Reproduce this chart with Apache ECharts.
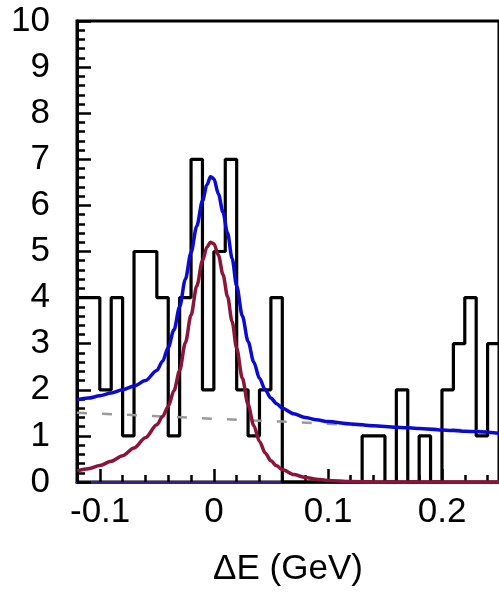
<!DOCTYPE html>
<html>
<head>
<meta charset="utf-8">
<script src="https://cdn.jsdelivr.net/npm/echarts@6/dist/echarts.min.js"></script>
<style>
html,body{margin:0;padding:0;background:#fff;}
#chart{width:499px;height:592px;}
</style>
</head>
<body>
<div id="chart"></div>
<script>
// ---- data ----
// histogram: left edge of each 0.01-GeV bin and its count
var binLeft = [-0.12,-0.11,-0.10,-0.09,-0.08,-0.07,-0.06,-0.05,-0.04,-0.03,-0.02,-0.01,0.00,0.01,0.02,0.03,0.04,0.05,0.06,0.07,0.08,0.09,0.10,0.11,0.12,0.13,0.14,0.15,0.16,0.17,0.18,0.19,0.20,0.21,0.22,0.23,0.24];
var binCount = [4,4,2,4,1,5,5,4,1,4,7,2,5,7,2,1,2,4,0,0,0,0,0,0,0,1,1,0,2,0,1,0,2,3,4,1,3];
var binWidth = 0.01;

// total fit (blue)
var totalX = [-0.12,-0.11,-0.10,-0.09,-0.08,-0.07,-0.06,-0.05,-0.045,-0.04,-0.035,-0.03,-0.025,-0.02,-0.015,-0.01,-0.006,-0.003,0.0,0.004,0.008,0.012,0.016,0.02,0.025,0.03,0.035,0.04,0.045,0.05,0.055,0.06,0.07,0.08,0.09,0.10,0.12,0.14,0.16,0.18,0.20,0.22,0.25];
var totalY = [1.78,1.82,1.87,1.93,2.0,2.08,2.2,2.42,2.62,2.92,3.3,3.8,4.4,4.98,5.55,6.1,6.45,6.62,6.58,6.25,5.85,5.4,4.85,4.25,3.6,3.05,2.6,2.25,2.0,1.82,1.7,1.6,1.48,1.40,1.35,1.31,1.26,1.22,1.19,1.16,1.13,1.10,1.06];

// signal component (dark red)
var signalX = [-0.12,-0.11,-0.10,-0.09,-0.08,-0.07,-0.06,-0.05,-0.045,-0.04,-0.035,-0.03,-0.025,-0.02,-0.015,-0.01,-0.006,-0.003,0.0,0.004,0.008,0.012,0.016,0.02,0.025,0.03,0.035,0.04,0.045,0.05,0.055,0.06,0.07,0.08,0.09,0.10,0.12,0.15,0.25];
var signalY = [0.24,0.29,0.36,0.45,0.57,0.74,0.96,1.24,1.42,1.64,1.98,2.42,3.02,3.62,4.25,4.8,5.1,5.2,5.17,4.92,4.5,4.02,3.48,2.9,2.25,1.68,1.22,0.88,0.63,0.46,0.35,0.27,0.16,0.10,0.06,0.035,0.012,0.0,0.0];

// background component (grey dashed)
var bgX = [-0.12,-0.06,0.0,0.06,0.12,0.18,0.25];
var bgY = [1.50,1.44,1.37,1.31,1.24,1.17,1.09];

var xMin = -0.12, xMax = 0.25, yMin = 0, yMax = 10;
var xLabelTicks = [-0.1, 0, 0.1, 0.2];
var axisTitle = '\u0394E (GeV)';

// ---- build series data ----
function zip(xs, ys){ var o=[]; for (var i=0;i<xs.length;i++) o.push([xs[i], ys[i]]); return o; }
var histData = zip(binLeft, binCount);
histData.push([binLeft[binLeft.length-1] + binWidth, binCount[binCount.length-1]]);

var FONT = '"Liberation Sans", Arial, Helvetica, sans-serif';
var chart = echarts.init(document.getElementById('chart'), null, {renderer:'canvas'});
chart.setOption({
  backgroundColor: '#fff',
  animation: false,
  grid: [
    {left: 77, top: 21, right: -6, bottom: 110, show: true, borderColor: '#000', borderWidth: 3, backgroundColor: 'transparent'},
    {left: 100.14, top: 21, right: -6, bottom: 110, show: false}
  ],
  xAxis: [
    {
      type: 'value', gridIndex: 0, min: xMin, max: xMax, interval: 0.02,
      axisLine: {show: true, onZero: false, lineStyle: {color: '#3a1f8c', width: 3}},
      axisTick: {show: true, inside: true, length: 7, lineStyle: {color: '#000', width: 2.5}},
      axisLabel: {show: false},
      splitLine: {show: false},
      name: axisTitle, nameLocation: 'middle', nameGap: 70,
      nameTextStyle: {fontSize: 35, color: '#000', fontFamily: FONT}
    },
    {
      type: 'value', gridIndex: 1, min: xLabelTicks[0], max: xMax, interval: 0.1,
      axisLine: {show: false, onZero: false},
      axisTick: {show: true, inside: true, length: 13, lineStyle: {color: '#000', width: 2.5}},
      axisLabel: {show: true, margin: 13, fontSize: 35, color: '#000', fontFamily: FONT, showMaxLabel: false},
      splitLine: {show: false}
    }
  ],
  yAxis: [
    {
      type: 'value', gridIndex: 0, min: yMin, max: yMax, interval: 1,
      axisLine: {show: true, onZero: false, lineStyle: {color: '#000', width: 3}},
      axisTick: {show: true, inside: true, length: 14, lineStyle: {color: '#000', width: 2.5}},
      minorTick: {show: true, splitNumber: 5, length: 8, lineStyle: {color: '#000', width: 2.5}},
      axisLabel: {show: true, margin: 27, fontSize: 35, color: '#000', fontFamily: FONT},
      splitLine: {show: false}
    },
    {
      type: 'value', gridIndex: 1, min: yMin, max: yMax, show: false,
      axisLine: {show: false, onZero: false}, axisTick: {show: false}, axisLabel: {show: false}, splitLine: {show: false}
    }
  ],
  series: [
    {
      type: 'line', xAxisIndex: 0, yAxisIndex: 0, data: histData, step: 'end',
      symbol: 'none', lineStyle: {color: '#000', width: 3.2}, z: 2
    },
    {
      type: 'line', xAxisIndex: 0, yAxisIndex: 0, data: zip(bgX, bgY),
      symbol: 'none', lineStyle: {color: '#9a9a9a', width: 2.5, type: [10, 15]}, z: 3
    },
    {
      type: 'line', xAxisIndex: 0, yAxisIndex: 0, data: zip(signalX, signalY), smooth: 0.3, smoothMonotone: 'x',
      symbol: 'none', lineStyle: {color: '#8b1538', width: 3.5}, z: 4
    },
    {
      type: 'line', xAxisIndex: 0, yAxisIndex: 0, data: zip(totalX, totalY), smooth: 0.3, smoothMonotone: 'x',
      symbol: 'none', lineStyle: {color: '#0a0ad2', width: 3.5}, z: 5
    }
  ]
});
</script>
</body>
</html>
